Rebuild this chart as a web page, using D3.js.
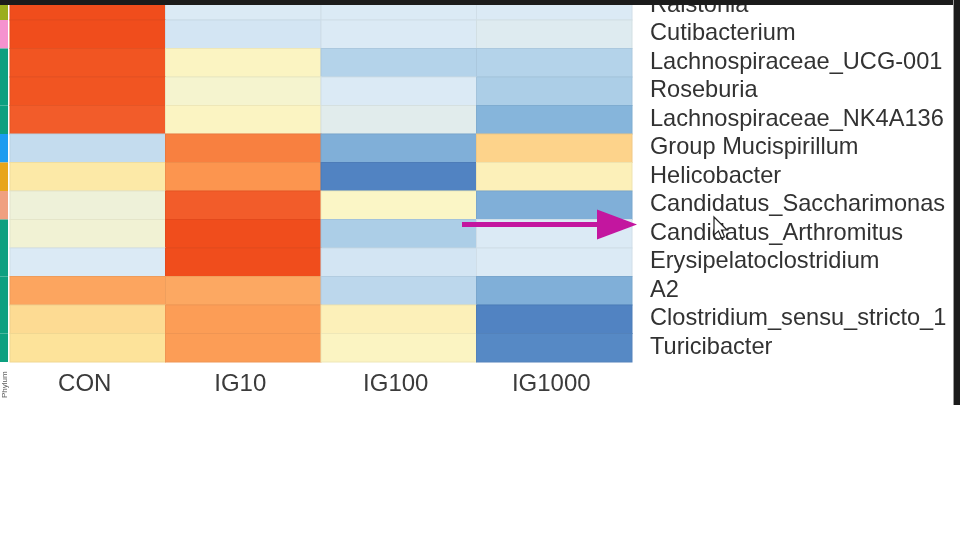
<!DOCTYPE html>
<html>
<head>
<meta charset="utf-8">
<script src="https://d3js.org/d3.v7.min.js"></script>
<style>
  body { margin: 0; background: #fff; }
  text { font-family: "Liberation Sans", Arial, sans-serif; }
</style>
</head>
<body>
<div id="heatmap"></div>
<script>
// row labels (genera), top to bottom
var genera = [
  "Ralstonia", "Cutibacterium", "Lachnospiraceae_UCG-001", "Roseburia",
  "Lachnospiraceae_NK4A136", "Group Mucispirillum", "Helicobacter",
  "Candidatus_Saccharimonas", "Candidatus_Arthromitus",
  "Erysipelatoclostridium", "A2", "Clostridium_sensu_stricto_1", "Turicibacter"
];
// phylum annotation for each row
var phyla = [
  "Proteobacteria", "Actinobacteria", "Firmicutes", "Firmicutes", "Firmicutes",
  "Deferribacteres", "Campilobacterota", "Patescibacteria", "Firmicutes",
  "Firmicutes", "Firmicutes", "Firmicutes", "Firmicutes"
];
var groups = ["CON", "IG10", "IG100", "IG1000"];

// row z-scores, one array per group
var con    = [1.5, 1.5, 1.45, 1.45, 1.4, -0.65, 0.35, -0.2, -0.15, -0.5, 0.9, 0.55, 0.5];
var ig10   = [-0.5, -0.55, 0.05, -0.1, 0.05, 1.15, 1.0, 1.4, 1.5, 1.5, 0.88, 0.95, 0.95];
var ig100  = [-0.5, -0.5, -0.75, -0.5, -0.4, -1.1, -1.45, 0.0, -0.8, -0.55, -0.7, 0.15, 0.05];
var ig1000 = [-0.5, -0.45, -0.75, -0.8, -1.05, 0.6, 0.15, -1.1, -0.5, -0.5, -1.1, -1.45, -1.4];

var width = 960, height = 540;

var svg = d3.select("#heatmap").append("svg")
  .attr("width", width)
  .attr("height", height);

svg.append("defs").append("filter")
  .attr("id", "soft")
  .append("feGaussianBlur")
  .attr("stdDeviation", 0.6);

var g = svg.append("g").attr("filter", "url(#soft)");

var x = d3.scaleBand().domain(groups).range([10, 632]);
var y = d3.scaleBand().domain(genera).range([-8.5, 362]);

var color = d3.scaleLinear()
  .domain([-1.5, -1, -0.5, 0, 0.5, 1, 1.5])
  .range(["#4a7dbf", "#8dbbde", "#dbeaf5", "#fbf6c6", "#fde39a", "#fc9550", "#f04e1f"])
  .clamp(true);

var phylumColor = d3.scaleOrdinal()
  .domain(["Proteobacteria", "Actinobacteria", "Firmicutes", "Deferribacteres", "Campilobacterota", "Patescibacteria"])
  .range(["#9aae1a", "#f592cf", "#0fa080", "#1e9cf0", "#e8a51e", "#f0a080"]);

var series = [con, ig10, ig100, ig1000];
var cells = [];
genera.forEach(function (name, i) {
  groups.forEach(function (grp, j) {
    cells.push({ genus: name, group: grp, value: series[j][i] });
  });
});

// heatmap cells
g.append("g")
  .selectAll("rect")
  .data(cells)
  .enter()
  .append("rect")
  .attr("x", function (d) { return x(d.group); })
  .attr("y", function (d) { return y(d.genus); })
  .attr("width", x.bandwidth())
  .attr("height", y.bandwidth())
  .attr("fill", function (d) { return color(d.value); })
  .attr("stroke", function (d) { return d3.color(color(d.value)).darker(0.15); })
  .attr("stroke-width", 1);

// phylum annotation bar
g.append("g")
  .selectAll("rect")
  .data(genera)
  .enter()
  .append("rect")
  .attr("x", 0)
  .attr("y", function (d) { return y(d); })
  .attr("width", 8)
  .attr("height", y.bandwidth())
  .attr("fill", function (d, i) { return phylumColor(phyla[i]); });

// annotation title (small, at the left edge)
g.append("text")
  .attr("transform", "translate(7,398) rotate(-90)")
  .attr("font-size", 8)
  .attr("fill", "#555")
  .text("Phylum");

// row labels
g.append("g")
  .selectAll("text")
  .data(genera)
  .enter()
  .append("text")
  .attr("x", 650)
  .attr("y", function (d) { return y(d) + y.bandwidth() / 2 - 2; })
  .attr("dominant-baseline", "central")
  .attr("font-size", 23.6)
  .attr("fill", "#333")
  .text(function (d) { return d; });

// column labels
g.append("g")
  .selectAll("text")
  .data(groups)
  .enter()
  .append("text")
  .attr("x", function (d) { return x(d) + x.bandwidth() / 2 - 3; })
  .attr("y", 391)
  .attr("text-anchor", "middle")
  .attr("font-size", 24)
  .attr("fill", "#3a3a3a")
  .text(function (d) { return d; });

// magenta pointer arrow
var arrowY = y("Candidatus_Arthromitus") + 5;
g.append("line")
  .attr("x1", 462).attr("x2", 602)
  .attr("y1", arrowY).attr("y2", arrowY)
  .attr("stroke", "#c3159f")
  .attr("stroke-width", 5);
g.append("path")
  .attr("d", "M597," + (arrowY - 15) + "L637," + arrowY + "L597," + (arrowY + 15) + "Z")
  .attr("fill", "#c3159f");

// mouse cursor
g.append("path")
  .attr("transform", "translate(714,217)")
  .attr("d", "M0,0L0,18L4.5,14L7.5,21L10.5,19.8L7.5,13L13,13Z")
  .attr("fill", "#fff")
  .attr("stroke", "#222")
  .attr("stroke-width", 1.2);

// video frame edges
svg.append("rect").attr("x", 0).attr("y", 0).attr("width", width).attr("height", 5).attr("fill", "#1b1b1b");
svg.append("rect").attr("x", 953).attr("y", 0).attr("width", 1).attr("height", 405).attr("fill", "#999");
svg.append("rect").attr("x", 954).attr("y", 0).attr("width", 6).attr("height", 405).attr("fill", "#1b1b1b");
</script>
</body>
</html>
